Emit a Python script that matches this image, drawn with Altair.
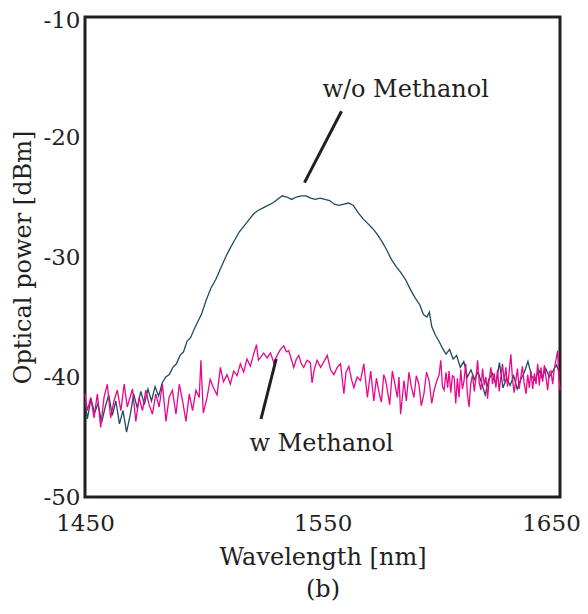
import altair as alt
import pandas as pd

# w/o Methanol trace (wavelength nm, power dBm)
wo_wl = [1450, 1451, 1452.5, 1454, 1455.5, 1457, 1458.5, 1460, 1461.5, 1463, 1464.5, 1466, 1467.5, 1469,
         1470.5, 1472, 1473.5, 1475, 1476.5, 1478, 1479.5, 1481, 1482.5, 1484, 1485.5, 1487, 1488.5, 1490,
         1491.5, 1493, 1494.5, 1496, 1497.5, 1499, 1501, 1503, 1505, 1507, 1509, 1511, 1513, 1515, 1517,
         1519, 1521, 1523, 1525, 1527, 1529, 1531, 1533, 1535, 1537, 1539, 1541, 1543, 1545, 1547, 1549,
         1551, 1553, 1555, 1557, 1559, 1561, 1563, 1565, 1567, 1569, 1571, 1573, 1575, 1577, 1579, 1581,
         1583, 1585, 1587, 1589, 1591, 1592.5, 1594, 1595, 1596, 1597.5, 1599, 1600.5, 1602, 1603.5, 1605,
         1606.5, 1608, 1609.5, 1611, 1612.5, 1614, 1615.5, 1617, 1618.5, 1620, 1621.5, 1623, 1624.5, 1626,
         1627.5, 1629, 1630.5, 1632, 1633.5, 1635, 1636.5, 1638, 1639.5, 1641, 1642.5, 1644, 1645.5, 1647,
         1648.5, 1650]
wo_db = [-42.0, -43.5, -41.8, -43.0, -42.2, -43.8, -42.5, -41.5, -43.2, -42.0, -43.9, -42.8, -44.6, -43.2,
         -41.4, -42.6, -41.2, -42.3, -41.0, -42.0, -40.8, -41.6, -40.5, -40.0, -39.8, -39.2, -38.9, -38.2,
         -37.9, -37.0, -36.7, -36.0, -35.4, -34.8, -33.6, -32.6, -31.9, -31.0, -30.1, -29.3, -28.6, -27.9, -27.4,
         -26.9, -26.4, -26.1, -25.9, -25.7, -25.5, -25.2, -24.9, -25.0, -25.2, -25.0, -24.9, -24.9, -25.1, -25.2, -25.1,
         -25.2, -25.3, -25.6, -25.7, -25.6, -25.5, -25.7, -26.3, -26.8, -27.2, -27.6, -28.1, -28.7, -29.4, -30.2, -30.8,
         -31.3, -31.9, -32.7, -33.4, -34.0, -34.8, -35.0, -34.6, -35.8, -36.5, -37.0, -37.6, -38.1, -37.7, -38.5,
         -38.2, -39.2, -38.7, -40.0, -39.4, -40.2, -39.6, -40.5, -41.5, -40.2, -39.7, -40.6, -38.8, -40.9,
         -40.1, -40.7, -39.9, -41.0, -40.2, -39.6, -38.7, -39.9, -40.3, -39.4, -40.1, -39.3, -40.0, -39.5,
         -39.0, -39.8]

# w Methanol trace
w_wl = [1450, 1451.0, 1452.4, 1453.8, 1455.2, 1456.6, 1458.0, 1459.4, 1460.8, 1462.2, 1463.6, 1465.1, 1466.5,
        1467.8, 1470.0, 1471.4, 1472.8, 1474.2, 1475.6, 1477.0, 1478.4, 1479.8, 1481.2, 1482.6, 1484.1, 1485.4,
        1486.8, 1488.3, 1489.7, 1491.1, 1492.5, 1493.9, 1495.3, 1496.7, 1498.1, 1498.8, 1499.8, 1501.4, 1502.7,
        1504.1, 1505.6, 1507.0, 1508.3, 1509.8, 1511.2, 1512.6, 1514.0, 1515.4, 1516.8, 1518.2, 1519.6, 1521.0,
        1522.2, 1523.0, 1523.8, 1525.2, 1526.7, 1528.1, 1529.5, 1530.9, 1532.3, 1533.7, 1534.8, 1535.8, 1537.0,
        1537.9, 1539.0, 1540.0, 1541.1, 1542.1, 1543.5, 1544.9, 1545.6, 1546.6, 1547.7, 1549.2, 1550.4, 1552.0,
        1553.4, 1554.8, 1556.2, 1557.6, 1559.0, 1559.9, 1561.1, 1562.2, 1563.2, 1564.6, 1566.0, 1567.4, 1568.9,
        1570.3, 1571.6, 1572.7, 1573.8, 1574.8, 1575.8, 1576.5, 1577.3, 1578.3, 1579.4, 1580.4, 1581.5, 1582.2,
        1582.9, 1584.3, 1585.3, 1586.4, 1587.4, 1588.5, 1589.5, 1590.6, 1591.6, 1592.7, 1593.8, 1594.9, 1596.0,
        1597.0, 1598.0, 1599.1,
        1599.8, 1600.5, 1601.2, 1602.0, 1602.7, 1603.3, 1604.0, 1604.7, 1605.4, 1606.1, 1606.8, 1607.5, 1608.2,
        1608.9, 1609.6, 1610.3, 1611.0, 1611.7, 1612.4, 1613.2, 1613.9, 1614.6, 1615.3, 1616.0, 1616.7, 1617.4,
        1618.1, 1618.8, 1619.5, 1620.2, 1620.9, 1621.6, 1622.3, 1623.0, 1623.7, 1624.4, 1625.1, 1625.8, 1626.5,
        1627.2, 1627.9, 1628.6, 1629.3, 1630.0, 1630.7, 1631.4, 1632.1, 1632.8, 1633.5, 1634.2, 1634.9, 1635.7,
        1636.4, 1637.1, 1637.8, 1638.5, 1639.2, 1639.9, 1640.6, 1641.3, 1642.0, 1642.7, 1643.4, 1644.1, 1644.8,
        1645.5, 1646.2, 1646.9, 1647.6, 1648.3, 1649.0, 1649.5, 1650.0]
w_db = [-41.4, -42.8, -41.7, -43.4, -41.4, -44.2, -41.7, -40.6, -43.4, -42.0, -41.1, -42.8, -40.6,
        -42.5, -41.0, -43.7, -41.7, -42.8, -41.1, -42.3, -43.1, -41.4, -42.5, -40.6, -43.7, -41.7,
        -41.1, -43.1, -40.6, -42.0, -43.7, -41.4, -42.8, -41.1, -41.7, -38.6, -43.0, -41.7, -40.2,
        -40.9, -41.5, -39.2, -40.4, -39.8, -40.6, -39.5, -39.9, -38.9, -39.6, -38.5, -39.1, -38.1,
        -37.3, -38.6, -38.4, -38.0, -38.4, -38.0, -38.8, -38.2, -37.7, -37.4, -37.9, -37.8, -38.6,
        -39.2, -38.5, -38.2, -38.9, -39.2, -38.6, -38.8, -40.5, -39.3, -38.6, -39.2, -38.8, -38.2,
        -39.4, -39.8, -39.2, -38.9, -41.4, -39.6, -39.1, -40.2, -40.9, -40.0, -40.3, -38.9, -41.7,
        -39.5, -42.0, -40.1, -41.3, -42.1, -39.8, -40.2, -41.1, -42.3, -39.5, -40.5, -41.7, -40.0,
        -43.1, -40.3, -42.0, -39.6, -40.8, -41.7, -39.9, -40.6, -42.4, -41.4, -39.6, -40.3, -42.2,
        -41.1, -40.4, -39.8,
        -38.6, -40.8, -41.1, -39.6, -40.9, -39.5, -41.3, -39.9, -40.0, -42.2, -40.1, -41.7, -39.4,
        -41.0, -40.3, -38.9, -41.4, -42.5, -40.6, -39.8, -41.2, -40.1, -38.6, -40.5, -41.1, -39.3,
        -40.7, -40.0, -41.8, -40.2, -39.2, -40.6, -39.7, -40.9, -39.4, -41.2, -40.0, -38.9, -40.4,
        -39.2, -40.8, -39.6, -38.1, -40.2, -41.3, -40.3, -39.3, -41.0, -40.0, -39.1, -40.5, -41.4,
        -39.8, -40.9, -39.5, -41.0, -39.7, -40.6, -38.9, -40.7, -39.2, -40.4, -39.0, -40.0, -41.1,
        -39.6, -39.5, -40.6, -39.3, -38.6, -37.8, -40.0, -41.1]

x_ticks = [1450, 1550, 1650]
y_ticks = [-50, -40, -30, -20, -10]

labels_text = ["w/o Methanol", "w Methanol"]
labels_wl = [1585, 1549.6]
labels_db = [-16.1, -45.6]

leader_wl = [1542.4, 1558.0, 1530.5, 1524.1]
leader_db = [-23.8, -17.85, -38.5, -43.5]
leader_id = ["a", "a", "b", "b"]

FONT = "DejaVu Serif"
FS = 24
LFS = 23

wo_df = pd.DataFrame({"wl": wo_wl, "db": wo_db})
w_df = pd.DataFrame({"wl": w_wl, "db": w_db})
lab_df = pd.DataFrame({"t": labels_text, "wl": labels_wl, "db": labels_db})
lead_df = pd.DataFrame({"wl": leader_wl, "db": leader_db, "id": leader_id})

xs = alt.Scale(domain=[1450, 1650], nice=False)
ys = alt.Scale(domain=[-50, -10], nice=False)

xax = alt.Axis(values=x_ticks, title=["Wavelength [nm]", "(b)"], titleLineHeight=32,
               labelPadding=15, titlePadding=10, labelFlush=False,
               labelOffset={"condition": {"test": "datum.value == 1650", "value": -9}, "value": 0},
               labelExpr="'' + datum.value")
yax = alt.Axis(values=y_ticks, title="Optical power [dBm]", labelPadding=5, titlePadding=7,
               labelOffset={"condition": {"test": "datum.value == -10", "value": 3}, "value": 0},
               labelExpr="'' + datum.value", labelFlush=False)

x_enc = alt.X("wl:Q", scale=xs, axis=xax)
y_enc = alt.Y("db:Q", scale=ys, axis=yax)

wo_line = alt.Chart(wo_df).mark_line(color="#1d4b63", strokeWidth=1.3).encode(
    x=x_enc, y=y_enc, order="wl:Q")
w_line = alt.Chart(w_df).mark_line(color="#e8078a", strokeWidth=1.3).encode(
    x=alt.X("wl:Q", scale=xs), y=alt.Y("db:Q", scale=ys), order="wl:Q")
leaders = alt.Chart(lead_df).mark_line(color="#231f20", strokeWidth=3).encode(
    x=alt.X("wl:Q", scale=xs), y=alt.Y("db:Q", scale=ys), detail="id:N")
texts = alt.Chart(lab_df).mark_text(font=FONT, fontSize=FS, color="#231f20").encode(
    x=alt.X("wl:Q", scale=xs), y=alt.Y("db:Q", scale=ys), text="t:N")

chart = alt.layer(wo_line, w_line, leaders, texts).properties(
    width=475, height=480,
    autosize=alt.AutoSizeParams(type="none"),
    padding={"left": 77, "top": 9, "right": 20, "bottom": 105},
).configure_view(
    stroke="#231f20", strokeWidth=3
).configure_axis(
    domain=False, ticks=False, grid=False,
    labelFont=FONT, labelFontSize=LFS, labelColor="#231f20",
    titleFont=FONT, titleFontSize=FS, titleFontWeight="normal", titleColor="#231f20",
)

chart.save("out.html", embed_options={"renderer": "svg", "actions": False})
